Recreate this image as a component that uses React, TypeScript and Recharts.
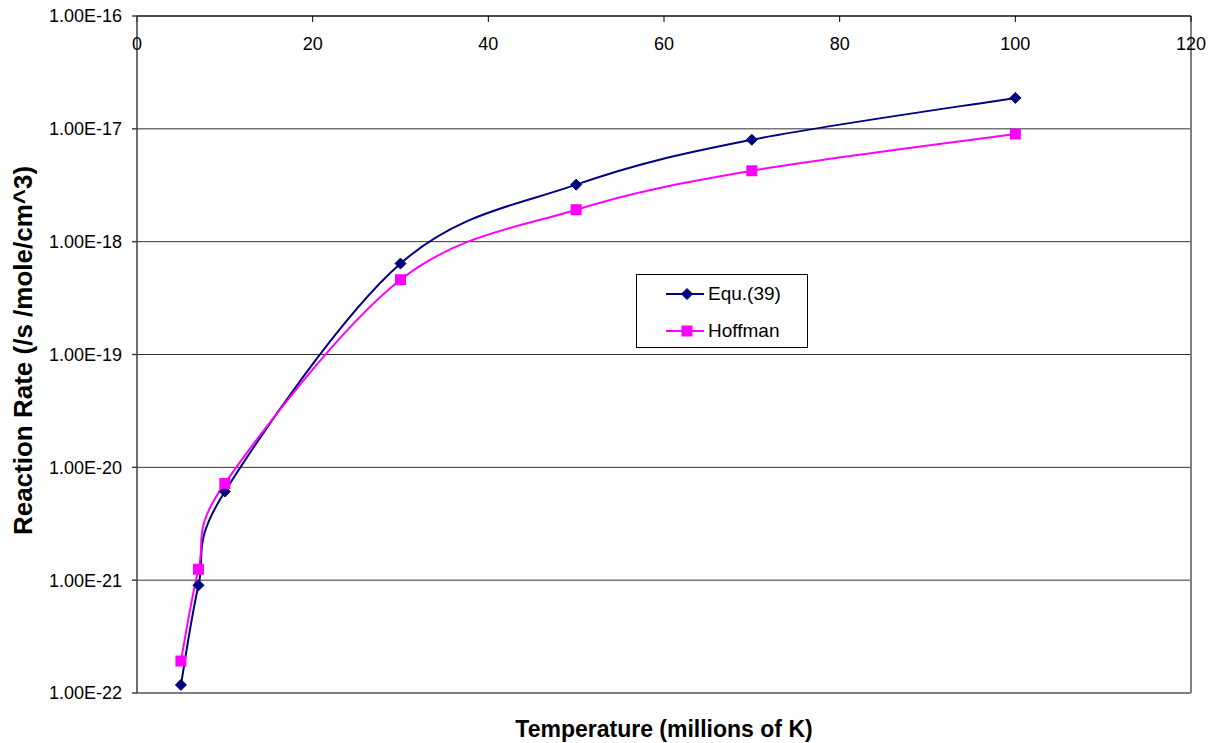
import React from "react";
import {
  LineChart,
  Line,
  XAxis,
  YAxis,
  CartesianGrid,
  Legend,
  ReferenceLine,
} from "recharts";

// temperature in millions of K
const temperatures = [5, 7, 10, 30, 50, 70, 100];
// reaction rates
const equ39 = [1.18e-22, 9.0e-22, 6.1e-21, 6.4e-19, 3.2e-18, 8.0e-18, 1.88e-17];
const hoffman = [1.92e-22, 1.25e-21, 7.2e-21, 4.6e-19, 1.92e-18, 4.25e-18, 9.0e-18];

const xTicks = [0, 20, 40, 60, 80, 100, 120];
const yTicks = [1e-22, 1e-21, 1e-20, 1e-19, 1e-18, 1e-17, 1e-16];

const data = temperatures.map((t, i) => ({
  t,
  equ: equ39[i],
  hoff: hoffman[i],
}));

const FONT = "'Liberation Sans', Arial, sans-serif";
const NAVY = "#000080";
const MAGENTA = "#FF00FF";

// Excel style smoothed line (catmull-rom as bezier)
function excelCurve(context: any) {
  let pts: number[][] = [];
  return {
    areaStart() {},
    areaEnd() {},
    lineStart() {
      pts = [];
    },
    point(x: number, y: number) {
      pts.push([+x, +y]);
    },
    lineEnd() {
      const n = pts.length;
      if (!n) return;
      context.moveTo(pts[0][0], pts[0][1]);
      for (let i = 0; i < n - 1; i++) {
        const p0 = pts[Math.max(i - 1, 0)];
        const p1 = pts[i];
        const p2 = pts[i + 1];
        const p3 = pts[Math.min(i + 2, n - 1)];
        context.bezierCurveTo(
          p1[0] + (p2[0] - p0[0]) / 6,
          p1[1] + (p2[1] - p0[1]) / 6,
          p2[0] - (p3[0] - p1[0]) / 6,
          p2[1] - (p3[1] - p1[1]) / 6,
          p2[0],
          p2[1]
        );
      }
    },
  };
}

const Diamond = (props: any) => {
  const { cx, cy } = props;
  if (cx == null || cy == null) return null;
  const r = 5.5;
  return (
    <path
      d={`M${cx},${cy - r}L${cx + r},${cy}L${cx},${cy + r}L${cx - r},${cy}Z`}
      fill={NAVY}
      stroke={NAVY}
    />
  );
};

const Square = (props: any) => {
  const { cx, cy } = props;
  if (cx == null || cy == null) return null;
  const s = 5.5;
  return <rect x={cx - s} y={cy - s} width={s * 2} height={s * 2} fill={MAGENTA} />;
};

const fmt = (v: number) => v.toExponential(2).toUpperCase();

const LegendBox = () => (
  <div
    style={{
      width: 172,
      height: 74,
      boxSizing: "border-box",
      border: "1px solid #000",
      background: "#fff",
      position: "relative",
      fontFamily: FONT,
      fontSize: 19,
    }}
  >
    {[
      { name: "Equ.(39)", color: NAVY, shape: "d", y: 19 },
      { name: "Hoffman", color: MAGENTA, shape: "s", y: 56 },
    ].map((e) => (
      <div key={e.name} style={{ position: "absolute", left: 0, top: e.y - 12, height: 24 }}>
        <svg width={70} height={24} style={{ position: "absolute", left: 0, top: 0 }}>
          <line x1={29} x2={67} y1={12} y2={12} stroke={e.color} strokeWidth={2} />
          {e.shape === "d" ? <Diamond cx={50} cy={12} /> : <Square cx={50} cy={12} />}
        </svg>
        <span style={{ position: "absolute", left: 71, top: 1, whiteSpace: "nowrap", lineHeight: "22px" }}>
          {e.name}
        </span>
      </div>
    ))}
  </div>
);

export default function App() {
  return (
    <div style={{ position: "absolute", left: 0, top: 0, width: 1214, height: 743, background: "#fff" }}>
      <LineChart
        width={1214}
        height={743}
        data={data}
        margin={{ top: 16, right: 23, left: 0, bottom: 50 }}
      >
        <CartesianGrid horizontal vertical={false} stroke="#333" strokeWidth={1} />
        <ReferenceLine y={1e-22} stroke="#808080" strokeWidth={2} />
        <ReferenceLine x={120} stroke="#808080" strokeWidth={2} />
        <XAxis
          dataKey="t"
          type="number"
          orientation="top"
          mirror
          domain={[0, 120]}
          ticks={xTicks}
          tickSize={6}
          tickMargin={15}
          stroke="#000"
          tick={{ fill: "#000", fontSize: 18, fontFamily: FONT }}
        />
        <YAxis
          type="number"
          scale="log"
          domain={[1e-22, 1e-16]}
          ticks={yTicks}
          allowDataOverflow
          width={137}
          tickSize={5}
          tickMargin={10}
          tickFormatter={fmt}
          stroke="#404040"
          strokeWidth={1.5}
          tick={{ fill: "#000", fontSize: 18, fontFamily: FONT }}
          label={{
            value: "Reaction Rate (/s /mole/cm^3)",
            angle: -90,
            position: "insideLeft",
            offset: 23,
            dy: -4,
            style: { textAnchor: "middle", fontWeight: "bold", fontSize: 26, fontFamily: FONT, fill: "#000" },
          }}
        />
        <Legend
          layout="horizontal"
          verticalAlign="middle"
          align="center"
          wrapperStyle={{ left: 636, top: 274, width: 172, height: 74 }}
          content={() => <LegendBox />}
        />
        <Line
          dataKey="equ"
          name="Equ.(39)"
          type={excelCurve as any}
          stroke={NAVY}
          strokeWidth={2}
          dot={<Diamond />}
          activeDot={false}
          isAnimationActive={false}
        />
        <Line
          dataKey="hoff"
          name="Hoffman"
          type={excelCurve as any}
          stroke={MAGENTA}
          strokeWidth={2}
          dot={<Square />}
          activeDot={false}
          isAnimationActive={false}
        />
      </LineChart>
      <div
        style={{
          position: "absolute",
          left: 137,
          width: 1054,
          top: 718,
          textAlign: "center",
          fontFamily: FONT,
          fontWeight: "bold",
          fontSize: 23,
          lineHeight: "23px",
        }}
      >
        Temperature (millions of K)
      </div>
    </div>
  );
}
